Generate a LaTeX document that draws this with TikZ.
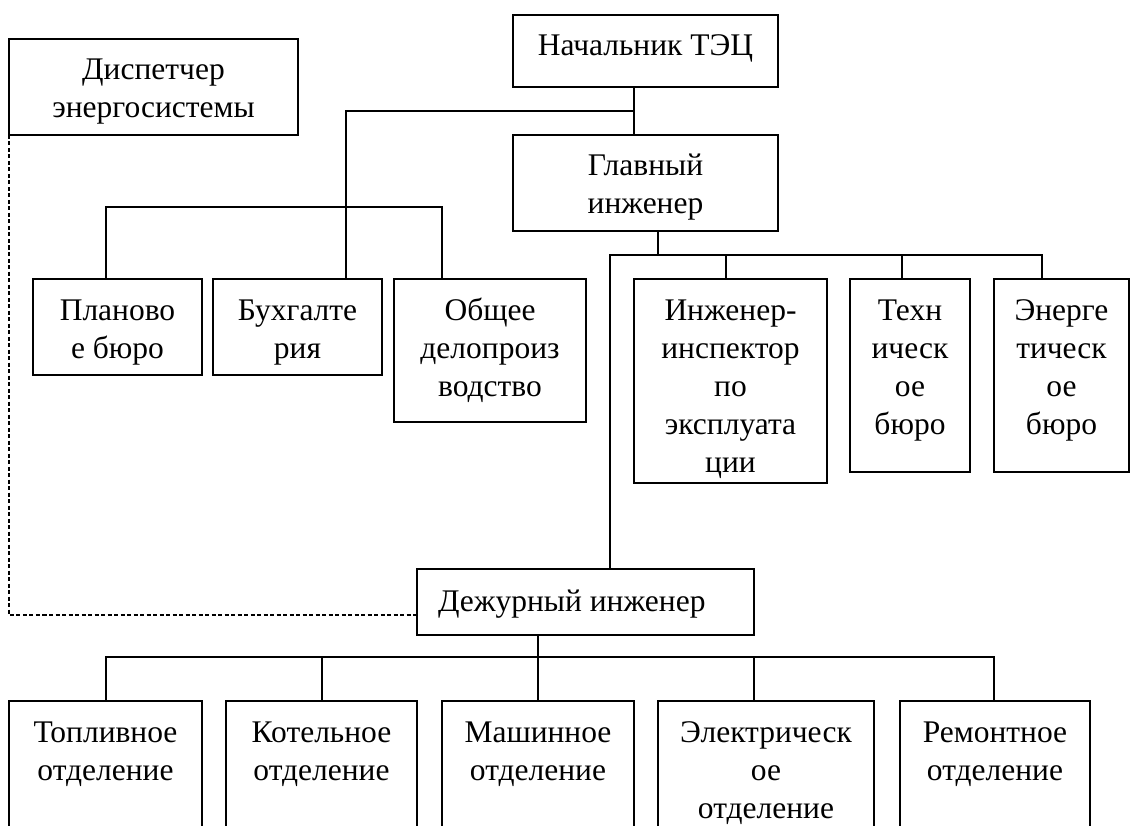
\documentclass[tikz,border=0pt]{standalone}
\usepackage{fontspec}
\setmainfont{Liberation Serif}
\newcommand{\bt}[3]{\parbox[c][#1pt][t]{#2pt}{\centering\rule{0pt}{41pt}#3}}
\begin{document}
\begin{tikzpicture}[x=1pt,y=-1pt,
  box/.style={draw, line width=1.4pt, inner sep=0pt, outer sep=0pt, anchor=north west,
              font=\fontsize{31.5}{38}\selectfont},
  conn/.style={line width=1.4pt},
  dashconn/.style={line width=1.2pt, dash pattern=on 4pt off 2.5pt}]
\path[use as bounding box, clip] (0,0) rectangle (1131,826);
\fill[white] (0,0) rectangle (1131,826);

% top level
\node[box] (Nach) at (513,15) {\bt{72}{265}{Начальник ТЭЦ}};
\node[box] (Disp) at (9,39) {\bt{96}{289}{Диспетчер\\энергосистемы}};
\node[box] (Glav) at (513,135) {\bt{96}{265}{Главный\\инженер}};

% second row
\node[box] (Plan) at (33,279) {\bt{96}{169}{Планово\\е бюро}};
\node[box] (Bukh) at (213,279) {\bt{96}{169}{Бухгалте\\рия}};
\node[box] (Obsh) at (394,279) {\bt{143}{192}{Общее\\делопроиз\\водство}};
\node[box] (Inzh) at (634,279) {\bt{204}{193}{Инженер-\\инспектор\\по\\эксплуата\\ции}};
\node[box] (Tech) at (850,279) {\bt{193}{120}{Техн\\ическ\\ое\\бюро}};
\node[box] (Energ) at (994,279) {\bt{193}{135}{Энерге\\тическ\\ое\\бюро}};

% duty engineer
\node[box] (Dezh) at (417,569) {\parbox[c][66pt][t]{337pt}{\raggedright\hspace*{21pt}\rule{0pt}{42pt}Дежурный инженер}};

% bottom row
\node[box] (Topl) at (9,701) {\bt{140}{193}{Топливное\\отделение}};
\node[box] (Kotel) at (226,701) {\bt{140}{191}{Котельное\\отделение}};
\node[box] (Mash) at (442,701) {\bt{140}{192}{Машинное\\отделение}};
\node[box] (Elek) at (658,701) {\bt{140}{216}{Электрическ\\ое\\отделение}};
\node[box] (Rem) at (900,701) {\bt{140}{190}{Ремонтное\\отделение}};

% junction coordinates
\coordinate (jA) at (634,111);
\coordinate (jB) at (346,111);
\coordinate (jC) at (346,207);
\coordinate (jP) at (106,207);
\coordinate (jO) at (442,207);
\coordinate (jG) at (658,255);
\coordinate (jL) at (610,255);
\coordinate (jI) at (726,255);
\coordinate (jT) at (902,255);
\coordinate (jE) at (1042,255);
\coordinate (jD) at (538,657);
\coordinate (bT) at (106,657);
\coordinate (bK) at (322,657);
\coordinate (bE) at (754,657);
\coordinate (bR) at (994,657);
\coordinate (dc) at (9,615);

% Начальник -> Главный, left branch
\draw[conn] (jA |- Nach.south) -- (jA |- Glav.north);
\draw[conn] (jA) -- (jB) -- (jB |- Bukh.north);
\draw[conn] (jP |- Plan.north) -- (jP) -- (jO) -- (jO |- Obsh.north);

% Главный инженер branch
\draw[conn] (jG |- Glav.south) -- (jG);
\draw[conn] (jL |- Dezh.north) -- (jL) -- (jE) -- (jE |- Energ.north);
\draw[conn] (jI) -- (jI |- Inzh.north);
\draw[conn] (jT) -- (jT |- Tech.north);

% Дежурный инженер branch
\draw[conn] (jD |- Dezh.south) -- (jD) -- (jD |- Mash.north);
\draw[conn] (bT |- Topl.north) -- (bT) -- (bR) -- (bR |- Rem.north);
\draw[conn] (bK) -- (bK |- Kotel.north);
\draw[conn] (bE) -- (bE |- Elek.north);

% dashed link
\draw[dashconn] (Disp.south west) -- (dc) -- (dc -| Dezh.west);
\end{tikzpicture}
\end{document}
